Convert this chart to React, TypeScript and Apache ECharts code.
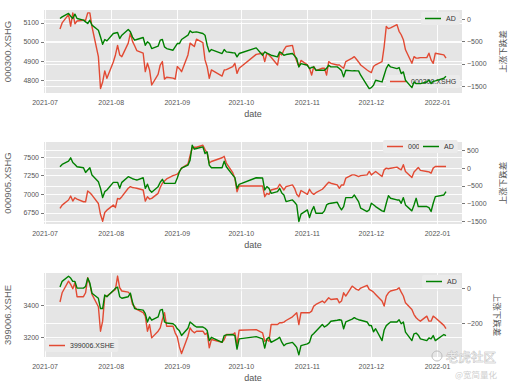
import React, { useEffect, useRef } from "react";
import * as echarts from "echarts";

// ---------------- calendar (SSE trading days) ----------------
const START_DAY = "2021-07-08";
const END_DAY = "2022-01-05";
const HOLIDAYS = [
  "2021-09-20", "2021-09-21",
  "2021-10-01", "2021-10-04", "2021-10-05", "2021-10-06", "2021-10-07",
  "2022-01-03",
];
const MONTH_TICKS = [
  "2021-07-01", "2021-08-01", "2021-09-01", "2021-10-01",
  "2021-11-01", "2021-12-01", "2022-01-01",
];

// ---------------- series values (one per trading day) ----------------
// 000300.XSHG close
const hs300Values = [
  // Jul
  5068, 5100, 5144, 5083, 5153, 5096, 5110, 5114, 5114, 5153, 5153, 5080, 4923, 4756, 4790, 4848, 4809,
  // Aug
  4895, 4932, 4982, 4932, 4923, 4994, 5047, 5003, 4980, 4955, 4941, 4844, 4888, 4853, 4774, 4830, 4879, 4897, 4805, 4815, 4810, 4805,
  // Sep
  4871, 4860, 4844, 4932, 4994, 4985, 4976, 5015, 4997, 4906, 4870, 4809, 4853, 4821, 4853, 4855, 4870, 4888, 4835, 4862,
  // Oct
  4935, 4941, 4897, 4941, 4932, 4920, 4879, 4941, 4932, 4959, 4976, 4982, 4932, 4900, 4871, 4903,
  // Nov
  4880, 4862, 4826, 4871, 4850, 4862, 4862, 4826, 4897, 4888, 4879, 4879, 4870, 4862, 4897, 4915, 4923, 4909, 4895, 4879, 4853, 4845,
  // Dec
  4839, 4871, 4880, 4897, 4976, 5082, 5070, 5074, 5091, 5056, 5038, 5012, 4959, 4888, 4923, 4915, 4916, 4918, 4918, 4941, 4906, 4888, 4941,
  // Jan
  4932, 4915,
];
// AD line, 000300 constituents
const adHs300Values = [
  15, 52, 127, 67, 15, 112, 15, -22, -60, -97, -22, -134, -246, -400, -560, -455, -485,
  -321, -310, -298, -433, -358, -231, -283, -400, -470, -455, -410, -582, -507, -545, -657, -604, -470, -455, -620, -657, -694, -620,
  -545, -545, -455, -358, -261, -298, -290, -283, -321, -358, -582, -731, -679, -768, -679, -731, -750, -753, -843, -768,
  -642, -806, -731, -760, -783, -806, -843, -731, -760, -806, -791, -768, -820, -880, -1067, -992,
  -1030, -1104, -1080, -1067, -1141, -1141, -1141, -1100, -1030, -1067, -1067, -1104, -1150, -1290, -1141, -1156, -1150, -1156, -1156, -1253, -1477, -1552,
  -1530, -1477, -1365, -1403, -1253, -1100, -1015, -1067, -1104, -1082, -1216, -1179, -1365, -1530, -1403, -1440, -1440, -1440, -1403, -1365, -1440, -1388, -1380,
  -1320, -1276,
];
// 000905.XSHG close
const zz500Values = [
  6809, 6854, 6922, 6976, 6908, 6953, 6935, 6899, 6899, 7044, 7020, 6989, 6876, 6727, 6637, 6755, 6786,
  6854, 6823, 6944, 6935, 6967, 7080, 7102, 7090, 7085, 7080, 7057, 6908, 6967, 6935, 6944, 7012, 7090, 7148, 7179, 7206, 7251, 7260,
  7270, 7306, 7351, 7405, 7520, 7622, 7631, 7631, 7658, 7599, 7554, 7419, 7440, 7490, 7509, 7419, 7290, 7215, 7034, 7111,
  7111, 7111, 6967, 7012, 6998, 7057, 7080, 7134, 7095, 7057, 7102, 7125, 7080, 7000, 6967, 7050,
  6998, 7067, 7020, 6998, 7021, 7067, 7098, 7130, 7161, 7148, 7125, 7080, 7125, 7125, 7215, 7260, 7260, 7250, 7238, 7250, 7260, 7306,
  7260, 7283, 7306, 7238, 7328, 7351, 7342, 7350, 7364, 7345, 7328, 7396, 7306, 7224, 7300, 7328, 7360, 7320, 7306, 7300, 7283, 7351, 7373,
  7373, 7373,
];
// AD line, 000905 constituents
const adZz500Values = [
  35, 100, 193, 286, 156, 100, 35, 7, -123, -58, 7, -198, -384, -570, -830, -663, -616,
  -402, -402, -402, -570, -402, -244, -272, -300, -320, -337, -272, -570, -458, -616, -681, -523, -400, -318, -430, -430, -430, -430,
  -280, -105, 0, 81, 221, 640, 528, 547, 593, 407, 453, 81, 7, 7, 193, 35, -198, -270, -570, -458,
  -272, -281, -616, -523, -570, -709, -663, -570, -700, -756, -942, -895, -960, -1035, -1500, -1295,
  -1174, -1388, -1202, -1081, -1267, -1267, -1202, -1035, -1000, -988, -960, -1081, -1174, -1081, -830, -830, -756, -850, -942, -1128, -1220, -1174,
  -988, -1030, -1081, -1202, -1220, -988, -774, -849, -895, -895, -988, -830, -1035, -1202, -1035, -849, -1081, -1081, -1081, -1109, -1220, -988, -802,
  -756, -662,
];
// 399006.XSHE close
const cybValues = [
  3419, 3476, 3548, 3528, 3501, 3538, 3452, 3452, 3476, 3569, 3528, 3466, 3390, 3239, 3301, 3456, 3456,
  3487, 3497, 3579, 3507, 3487, 3480, 3466, 3404, 3390, 3373, 3353, 3332, 3239, 3280, 3198, 3239, 3260, 3311, 3353, 3270, 3270, 3229,
  3204, 3142, 3101, 3208, 3260, 3240, 3229, 3239, 3239, 3219, 3229, 3136, 3188, 3171, 3188, 3219, 3219, 3229, 3157, 3245,
  3249, 3229, 3177, 3188, 3177, 3280, 3280, 3291, 3291, 3295, 3305, 3328, 3340, 3353, 3280, 3353,
  3353, 3353, 3363, 3394, 3404, 3425, 3414, 3430, 3445, 3435, 3439, 3414, 3425, 3476, 3456, 3517, 3507, 3497, 3492, 3505, 3522, 3497,
  3490, 3480, 3466, 3425, 3394, 3456, 3476, 3487, 3497, 3507, 3480, 3456, 3414, 3373, 3342, 3322, 3310, 3301, 3332, 3301, 3301, 3332, 3322,
  3275, 3255,
];
// AD line, 399006 constituents
const adCybValues = [
  6, 39, 68, 58, 39, 39, 0, 0, 10, 58, 29, -29, -58, -117, -117, -39, -49,
  -14, 0, 6, -49, -58, -49, -29, -80, -117, -120, -126, -146, -194, -165, -184, -165, -126, -122, -194, -200, -204, -214,
  -233, -245, -272, -230, -194, -204, -215, -223, -223, -230, -243, -301, -282, -311, -272, -268, -266, -272, -350, -291,
  -278, -291, -344, -291, -282, -311, -291, -282, -310, -330, -320, -311, -325, -340, -383, -330,
  -320, -311, -272, -260, -247, -208, -223, -215, -204, -190, -184, -181, -184, -233, -194, -178, -169, -176, -181, -184, -194, -214,
  -214, -250, -233, -301, -240, -215, -204, -194, -194, -181, -204, -194, -252, -301, -262, -258, -270, -291, -301, -286, -291, -272, -301,
  -266, -272,
];

// tick labels
const hs300Ticks = [4800, 4900, 5000, 5100];
const adHs300Ticks = [-1500, -1000, -500, 0];
const zz500Ticks = [6750, 7000, 7250, 7500];
const adZz500Ticks = [-1500, -1000, -500, 0, 500];
const cybTicks = [3200, 3400];
const adCybTicks = [-200, 0];

const INDEX_NAMES = ["000300.XSHG", "000905.XSHG", "399006.XSHE"];
const AD_NAME = "AD";
const X_NAME = "date";
const AD_AXIS_NAME = "上涨下跌差";

// ---------------- helpers ----------------
function buildTradingDays(): string[] {
  const out: string[] = [];
  const d = new Date(START_DAY + "T00:00:00Z");
  const end = new Date(END_DAY + "T00:00:00Z");
  while (d.getTime() <= end.getTime()) {
    const s = d.toISOString().slice(0, 10);
    const wd = d.getUTCDay();
    if (wd !== 0 && wd !== 6 && HOLIDAYS.indexOf(s) < 0) out.push(s);
    d.setUTCDate(d.getUTCDate() + 1);
  }
  return out;
}
const ts = (s: string) => Date.parse(s + "T00:00:00Z");
const fmtMonth = (v: number) => {
  const d = new Date(v);
  return d.getUTCFullYear() + "-" + String(d.getUTCMonth() + 1).padStart(2, "0");
};
const fmtPlain = (v: number) => String(v);
const fmtSigned = (v: number) => (v < 0 ? "\u2212" + Math.abs(v) : String(v));

const FONT = "'Liberation Sans', Arial, sans-serif";
const CJK = "'Noto Sans CJK SC', 'Noto Sans CJK JP', sans-serif";
const RED = "#E24A33";
const GREEN = "#008000";
const GRID_BG = "#E5E5E5";
const TICK = "#555555";

export default function App() {
  const ref = useRef<HTMLDivElement>(null);

  useEffect(() => {
    if (!ref.current) return;
    const chart = echarts.init(ref.current, undefined, { renderer: "svg" });

    const days = buildTradingDays().map(ts);
    const monthTs = MONTH_TICKS.map(ts);
    const X_MIN = Date.UTC(2021, 5, 30, 12);
    const X_MAX = Date.UTC(2022, 0, 12, 12);

    const panels = [
      {
        name: INDEX_NAMES[0], vals: hs300Values, ad: adHs300Values,
        top: 10, height: 83, lRange: [4732, 5168], rRange: [-1650, 205],
        lTicks: hs300Ticks, rTicks: adHs300Ticks, rRot: 90, rGap: 32,
        legIdx: { left: 386, top: 75 }, legAD: { left: 421, top: 12 },
      },
      {
        name: INDEX_NAMES[1], vals: zz500Values, ad: adZz500Values,
        top: 142, height: 82, lRange: [6600, 7702], rRange: [-1570, 730],
        lTicks: zz500Ticks, rTicks: adZz500Ticks, rRot: 90, rGap: 32,
        legIdx: { left: 383, top: 140 }, legAD: { left: 419, top: 140 },
      },
      {
        name: INDEX_NAMES[2], vals: cybValues, ad: adCybValues,
        top: 273, height: 84, lRange: [3080, 3598], rRange: [-395, 87],
        lTicks: cybTicks, rTicks: adCybTicks, rRot: -90, rGap: 25,
        legIdx: { left: 45, top: 339 }, legAD: { left: 422, top: 275 },
      },
    ];

    const grid = panels.map((p) => ({
      left: 44, width: 418, top: p.top, height: p.height,
      show: true, backgroundColor: GRID_BG, borderWidth: 0,
      containLabel: false, outerBoundsMode: "none",
    }));

    const tickStyle = { color: TICK, width: 0.8 };
    const labelBase = { fontSize: 7, color: TICK, fontFamily: FONT };

    const xAxis = panels.map((p, i) => ({
      type: "value", gridIndex: i, min: X_MIN, max: X_MAX, scale: true,
      axisLine: { show: false },
      splitLine: { show: false },
      axisTick: { show: true, customValues: monthTs, length: 3, lineStyle: tickStyle },
      axisLabel: { ...labelBase, customValues: monthTs, formatter: fmtMonth, margin: 6, hideOverlap: false },
      name: X_NAME, nameLocation: "middle", nameGap: 16,
      nameTextStyle: { fontSize: 9, color: TICK, fontFamily: FONT },
    }));

    const yAxis: any[] = [];
    panels.forEach((p, i) => {
      yAxis.push({
        type: "value", gridIndex: i, position: "left",
        min: p.lRange[0], max: p.lRange[1],
        axisLine: { show: false }, splitLine: { show: false },
        axisTick: { show: true, customValues: p.lTicks, length: 3, lineStyle: tickStyle },
        axisLabel: { ...labelBase, customValues: p.lTicks, formatter: fmtPlain, margin: 5 },
        name: p.name, nameLocation: "middle", nameGap: 25, nameRotate: 90,
        nameTextStyle: { fontSize: 9.5, color: "#666666", fontFamily: FONT },
      });
      yAxis.push({
        type: "value", gridIndex: i, position: "right",
        min: p.rRange[0], max: p.rRange[1],
        axisLine: { show: false }, splitLine: { show: false },
        axisTick: { show: true, customValues: p.rTicks, length: 3, lineStyle: tickStyle },
        axisLabel: { ...labelBase, customValues: p.rTicks, formatter: fmtSigned, margin: 5 },
        name: AD_AXIS_NAME, nameLocation: "middle", nameGap: p.rGap, nameRotate: p.rRot,
        nameTextStyle: { fontSize: 8.5, color: TICK, fontFamily: CJK },
      });
    });

    const gridLine = { color: "#ffffff", width: 0.9, type: "solid" };
    const series: any[] = [];
    panels.forEach((p, i) => {
      series.push({
        type: "line", name: "__gl" + i, xAxisIndex: i, yAxisIndex: 2 * i, data: [],
        silent: true, z: 1,
        markLine: {
          z: 1, silent: true, symbol: ["none", "none"], label: { show: false },
          lineStyle: gridLine, animation: false, emphasis: { disabled: true },
          data: [...p.lTicks.map((v) => ({ yAxis: v })), ...monthTs.map((t) => ({ xAxis: t }))],
        },
      });
      series.push({
        type: "line", name: "__gr" + i, xAxisIndex: i, yAxisIndex: 2 * i + 1, data: [],
        silent: true, z: 1,
        markLine: {
          z: 1, silent: true, symbol: ["none", "none"], label: { show: false },
          lineStyle: gridLine, animation: false, emphasis: { disabled: true },
          data: p.rTicks.map((v) => ({ yAxis: v })),
        },
      });
      series.push({
        type: "line", name: p.name, xAxisIndex: i, yAxisIndex: 2 * i,
        data: days.map((d, k) => [d, p.vals[k]]),
        showSymbol: false, symbol: "none", z: 2,
        lineStyle: { color: RED, width: 1.4, join: "round" }, itemStyle: { color: RED },
      });
      series.push({
        type: "line", name: AD_NAME, xAxisIndex: i, yAxisIndex: 2 * i + 1,
        data: days.map((d, k) => [d, p.ad[k]]),
        showSymbol: false, symbol: "none", z: 4,
        lineStyle: { color: GREEN, width: 1.4, join: "round" }, itemStyle: { color: GREEN },
      });
    });

    const legendBase = {
      orient: "horizontal", icon: "rect", itemWidth: 16, itemHeight: 1.5, itemGap: 0,
      padding: [3, 4, 3, 4], backgroundColor: "#EBEBEB", borderRadius: 2,
      selectedMode: false,
      textStyle: { fontSize: 7, color: "#333", fontFamily: FONT },
    };
    const legend: any[] = [];
    panels.forEach((p) => {
      legend.push({ ...legendBase, data: [p.name], left: p.legIdx.left, top: p.legIdx.top, z: 3 });
      legend.push({ ...legendBase, data: [AD_NAME], left: p.legAD.left, top: p.legAD.top, z: 5 });
    });

    const graphic = [
      { type: "circle", shape: { cx: 437, cy: 356, r: 5 }, style: { fill: "none", stroke: "#bbbbbb", lineWidth: 1 }, z: 100, silent: true },
      { type: "text", x: 446, y: 356, style: { text: "老虎社区", fontSize: 12.5, fontFamily: CJK, fill: "rgba(245,245,245,0.8)", stroke: "#b0b0b0", lineWidth: 0.6, verticalAlign: "middle" }, z: 100, silent: true },
      { type: "text", x: 455, y: 374, style: { text: "@宽简量化", fontSize: 8.5, fontFamily: CJK, fill: "#cfcfcf", verticalAlign: "middle" }, z: 100, silent: true },
    ];

    chart.setOption({
      animation: false,
      backgroundColor: "#ffffff",
      textStyle: { fontFamily: FONT },
      grid, xAxis, yAxis, series, legend, graphic,
    });

    return () => chart.dispose();
  }, []);

  return (
    <div
      ref={ref}
      style={{ position: "fixed", left: 0, top: 0, width: 508, height: 386, background: "#fff" }}
    />
  );
}
